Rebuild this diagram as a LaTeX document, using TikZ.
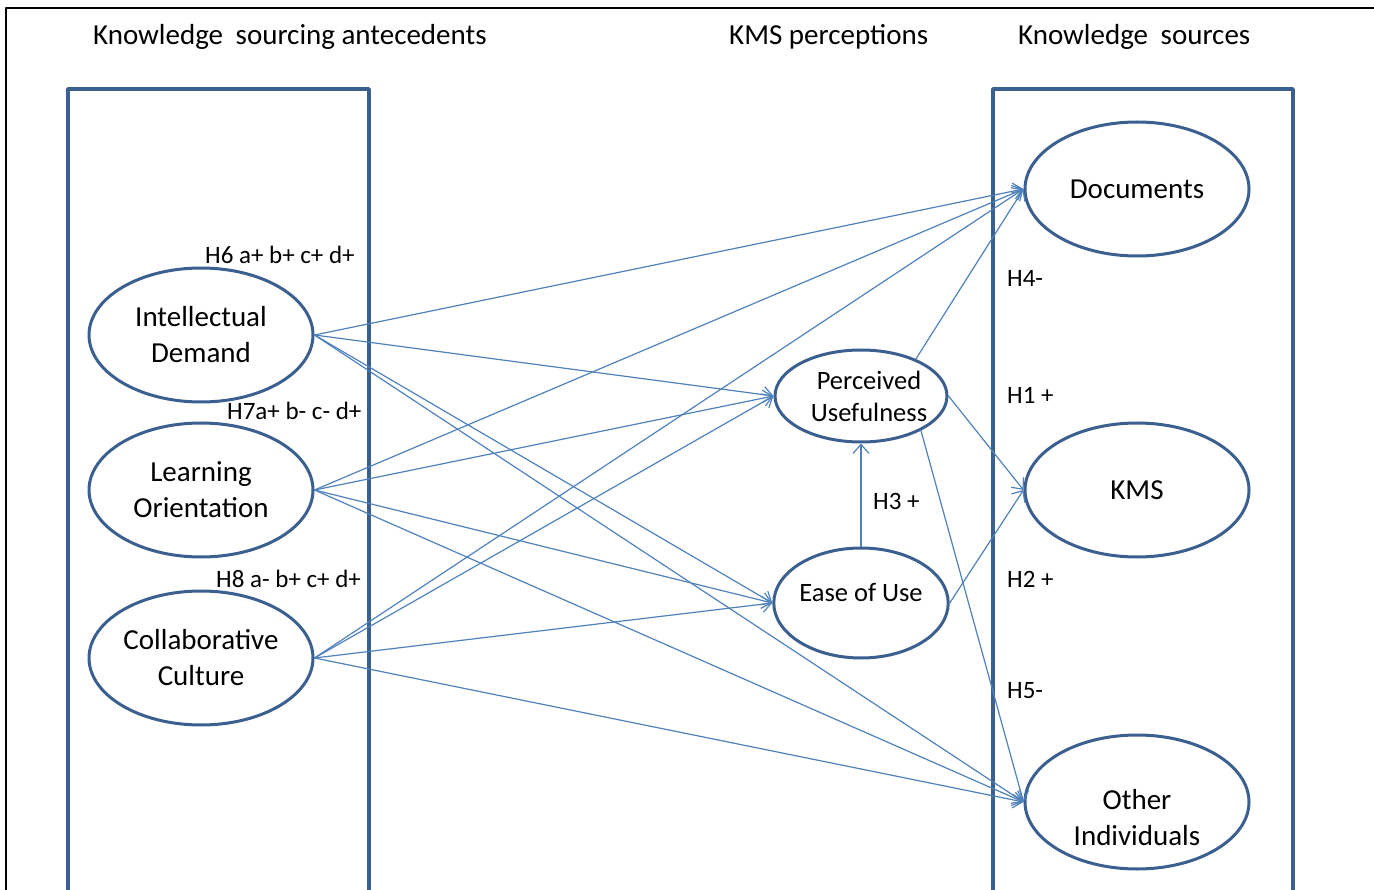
\documentclass[tikz,border=0pt]{standalone}
\usepackage{fontspec}
\setmainfont{Carlito}
\usetikzlibrary{shapes.geometric,arrows.meta}
\definecolor{frameblue}{HTML}{3B5F8F}
\definecolor{linkblue}{HTML}{4F81BD}
\begin{document}
\begin{tikzpicture}[
  x=1pt, y=-1pt,
  line cap=round,
  line join=round,
  construct/.style={ellipse, draw=frameblue, line width=3pt, fill=white,
    minimum width=224pt, minimum height=134pt, inner sep=0pt, align=center,
    font=\fontsize{29}{36}\selectfont},
  percept/.style={construct, minimum width=172pt,
    font=\fontsize{26.5}{32}\selectfont},
  link/.style={draw=linkblue, line width=1.2pt,
    -{Straight Barb[length=9pt,width=16pt,line width=1.2pt]}},
  hyp/.style={anchor=base west, inner sep=0pt, font=\fontsize{25}{30}\selectfont},
  heading/.style={anchor=base west, inner sep=0pt, font=\fontsize{29}{34}\selectfont}
]
  \useasboundingbox (0,0) rectangle (1374,890);

  % Rahmen
  \draw[line width=2pt] (1374,8) -- (6,8) -- (6,892);

  % Spalten
  \draw[frameblue, line width=3.5pt] (68,895) -- (68,89) -- (369,89) -- (369,895);
  \draw[frameblue, line width=3.5pt] (993,895) -- (993,89) -- (1293,89) -- (1293,895);

  % Ueberschriften
  \node[heading] (hsrc) at (93,45) {Knowledge\hspace{6pt} sourcing antecedents};
  \node[heading] (hkms) at (729,45) {KMS perceptions};
  \node[heading] (hsrcs) at (1018,45) {Knowledge\hspace{6pt} sources};

  % Antezedenzien
  \node[construct] (id) at (201,335) {Intellectual\\Demand};
  \node[construct] (lo) at (201,490) {Learning\\Orientation};
  \node[construct] (cc) at (201,658) {Collaborative\\Culture};

  % Wahrnehmungen
  \node[percept, minimum height=92pt] (pu) at (861,396)
    {\makebox[0pt]{\hspace*{16pt}Perceived}\\\makebox[0pt]{\hspace*{16pt}Usefulness}};
  \node[percept, minimum height=110pt] (eou) at (861,603)
    {\raisebox{2pt}[0pt][0pt]{Ease of Use}};

  % Quellen
  \node[construct] (docs) at (1137,189) {Documents};
  \node[construct] (kms) at (1137,490) {KMS};
  \node[construct] (other) at (1137,802)
    {\raisebox{-25pt}[0pt][0pt]{\begin{tabular}{@{}c@{}}Other\\Individuals\end{tabular}}};

  % Pfeile
  \foreach \src in {id,lo,cc}{
    \draw[link] (\src.east) -- (docs.west);
    \draw[link] (\src.east) -- (pu.west);
    \draw[link] (\src.east) -- (eou.west);
    \draw[link] (\src.east) -- (other.west);
  }
  \draw[link] (pu.34) -- (docs.west);
  \draw[link] (pu.east) -- (kms.west);
  \draw[link] (pu.-30) -- (other.west);
  \draw[link] (eou.east) -- (kms.west);
  \draw[link] (eou.north) -- (pu.south);

  % Hypothesen
  \node[hyp] (h6) at (205,264) {H6 a+ b+ c+ d+};
  \node[hyp] (h7) at (227,420) {H7a+ b- c- d+};
  \node[hyp] (h8) at (216,587) {H8 a- b+ c+ d+};
  \node[hyp] (h4) at (1007,287) {H4-};
  \node[hyp] (h1) at (1007,404) {H1 +};
  \node[hyp] (h2) at (1007,587) {H2 +};
  \node[hyp] (h5) at (1007,698) {H5-};
  \node[hyp] (h3) at (873,509) {H3 +};
\end{tikzpicture}
\end{document}
